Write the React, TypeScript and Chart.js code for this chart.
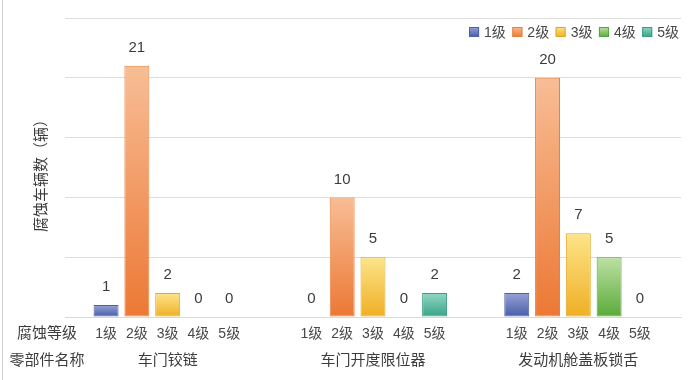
import React, { useEffect, useRef } from "react";
import { Chart, registerables } from "chart.js";

Chart.register(...registerables);

const categories = ["车门铰链", "车门开度限位器", "发动机舱盖板锁舌"];
const grades = ["1级", "2级", "3级", "4级", "5级"];
const grade1 = [1, 0, 2];
const grade2 = [21, 10, 20];
const grade3 = [2, 5, 7];
const grade4 = [0, 0, 5];
const grade5 = [0, 2, 0];
const seriesValues = [grade1, grade2, grade3, grade4, grade5];
const yTitle = "腐蚀车辆数（辆）";
const rowLabel1 = "腐蚀等级";
const rowLabel2 = "零部件名称";

const palette = [
  { top: "#96a3d6", bottom: "#475ba6", border: "#4c60a8", mid: "#6677bd" },
  { top: "#f8bd95", bottom: "#ec7834", border: "#e8813c", mid: "#ef8c4c" },
  { top: "#fde48a", bottom: "#efaf24", border: "#e3aa28", mid: "#f5c84a" },
  { top: "#bde1a3", bottom: "#5aaa39", border: "#52a440", mid: "#7cbf5a" },
  { top: "#92d6c3", bottom: "#35a486", border: "#389d84", mid: "#52b79c" },
];

const FONT = "'Liberation Sans', 'Noto Sans CJK SC', sans-serif";
const TEXT = "#3c3c3c";

const labelsPlugin = {
  id: "customLabels",
  beforeDraw(chart: any) {
    const ctx = chart.ctx;
    ctx.save();
    ctx.fillStyle = "#ffffff";
    ctx.fillRect(0, 0, chart.width, chart.height);
    ctx.fillStyle = "#d2d2d2";
    ctx.fillRect(2, 0, 1, chart.height);
    ctx.restore();
  },
  afterDatasetsDraw(chart: any) {
    const ctx = chart.ctx;
    const yScale = chart.scales.y;
    const xScale = chart.scales.x;
    const base = yScale.getPixelForValue(0);
    ctx.save();
    ctx.textAlign = "center";
    ctx.textBaseline = "middle";
    chart.data.datasets.forEach((ds: any, i: number) => {
      const meta = chart.getDatasetMeta(i);
      meta.data.forEach((bar: any, j: number) => {
        const v = ds.data[j];
        ctx.font = `15px ${FONT}`;
        ctx.fillStyle = TEXT;
        ctx.fillText(String(v), bar.x, bar.y - 18);
        ctx.font = `14px ${FONT}`;
        ctx.fillStyle = "#484848";
        ctx.fillText(grades[i], bar.x, base + 17);
      });
    });
    // category names (x axis labels)
    ctx.font = `15px ${FONT}`;
    ctx.fillStyle = TEXT;
    chart.data.labels.forEach((lab: string, k: number) => {
      ctx.fillText(lab, xScale.getPixelForValue(k), base + 44);
    });
    ctx.fillText(rowLabel1, 47, base + 17);
    ctx.fillText(rowLabel2, 47, base + 44);

    // legend (top-right, inside plot)
    ctx.font = `14px ${FONT}`;
    ctx.textAlign = "left";
    const boxW = 10;
    const gap = 5;
    const itemGap = 6.5;
    const widths = chart.data.datasets.map(
      (ds: any) => boxW + gap + ctx.measureText(ds.label).width
    );
    const total = widths.reduce((a: number, b: number) => a + b, 0) + itemGap * (widths.length - 1);
    let lx = chart.chartArea.right - 2 - total;
    const ly = 32;
    chart.data.datasets.forEach((ds: any, i: number) => {
      const p = palette[i];
      const g = ctx.createLinearGradient(0, ly - 5, 0, ly + 5);
      g.addColorStop(0, p.top);
      g.addColorStop(1, p.bottom);
      ctx.fillStyle = g;
      ctx.fillRect(lx, ly - 5, boxW, boxW);
      ctx.strokeStyle = p.border;
      ctx.lineWidth = 1;
      ctx.strokeRect(lx + 0.5, ly - 4.5, boxW - 1, boxW - 1);
      ctx.fillStyle = "#484848";
      ctx.fillText(ds.label, lx + boxW + gap, ly + 1);
      lx += widths[i] + itemGap;
    });

    ctx.textAlign = "center";
    ctx.font = `15px ${FONT}`;
    ctx.fillStyle = TEXT;
    ctx.translate(42, 172);
    ctx.rotate(-Math.PI / 2);
    ctx.fillText(yTitle, 0, 0);
    ctx.restore();
  },
};

function makeGradient(ctx: any, i: number) {
  const chart = ctx.chart;
  const p = palette[i];
  const area = chart.chartArea;
  if (!area || ctx.type !== "data") return p.mid;
  const y = chart.scales.y;
  const v = ctx.raw as number;
  const top = y.getPixelForValue(v);
  const bottom = y.getPixelForValue(0);
  if (!isFinite(top) || !isFinite(bottom) || bottom - top < 1) return p.mid;
  const g = chart.ctx.createLinearGradient(0, top, 0, bottom);
  g.addColorStop(0, p.top);
  g.addColorStop(1, p.bottom);
  return g;
}

export default function App() {
  const ref = useRef<HTMLCanvasElement | null>(null);
  useEffect(() => {
    if (!ref.current) return;
    const chart = new Chart(ref.current, {
      type: "bar",
      data: {
        labels: categories,
        datasets: seriesValues.map((vals, i) => ({
          label: grades[i],
          data: vals,
          backgroundColor: (c: any) => makeGradient(c, i),
          borderColor: palette[i].border,
          borderWidth: (c: any) => (c.raw === 0 ? 0 : 1),
          borderSkipped: false,
          categoryPercentage: 0.75,
          barPercentage: 0.81,
        })),
      },
      options: {
        animation: false,
        responsive: true,
        maintainAspectRatio: false,
        layout: { padding: { left: 65, right: 19, top: 18, bottom: 63 } },
        plugins: {
          legend: { display: false },
          tooltip: { enabled: false },
        },
        scales: {
          x: {
            grid: { display: false, drawTicks: false },
            border: { display: true, color: "#d9d9d9" },
            ticks: { display: false },
          },
          y: {
            min: 0,
            max: 25,
            ticks: { display: false, stepSize: 5 },
            grid: { color: "#dcdcdc", drawTicks: false },
            border: { display: false },
          },
        },
      },
      plugins: [labelsPlugin],
    });
    return () => chart.destroy();
  }, []);
  return (
    <div style={{ position: "absolute", left: 0, top: 0, width: 700, height: 380, background: "#fff" }}>
      <canvas ref={ref} />
    </div>
  );
}
